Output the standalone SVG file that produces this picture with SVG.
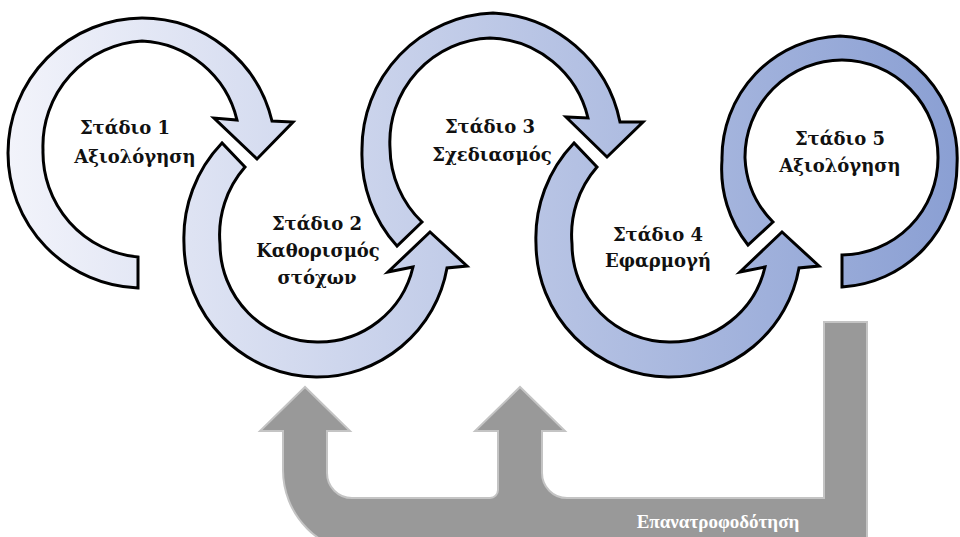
<svg xmlns="http://www.w3.org/2000/svg" width="960" height="537" viewBox="0 0 960 537">
<defs>
<linearGradient id="ringGrad" gradientUnits="userSpaceOnUse" x1="0" y1="0" x2="960" y2="0">
<stop offset="0" stop-color="#f3f4fb"/>
<stop offset="1" stop-color="#8a9fd3"/>
</linearGradient>
</defs>
<style>
.ring{fill:url(#ringGrad);stroke:#000;stroke-width:3;stroke-linejoin:miter}
.lbl{font-family:"DejaVu Serif","Liberation Serif",serif;font-weight:bold;font-size:18px;fill:#111;text-anchor:middle}
.fb{fill:#999;stroke:#c4c4c4;stroke-width:2}
.fbt{font-family:"Liberation Serif","DejaVu Serif",serif;font-weight:bold;font-size:19px;fill:#fff;text-anchor:middle}
</style>
<rect width="960" height="537" fill="#fff"/>
<g id="connectors">
<path class="fb" d="M824,322 L867,322 L867,553 L366,553 A83,83 0 0 1 283,470 L283,431 L260,431 L305,387 L350,431 L327,431 L327,473 A25,25 0 0 0 352,498 L490,498 A8,8 0 0 0 498,490 L498,431 L475,431 L520,387 L565,431 L542,431 L542,473 A25,25 0 0 0 567,498 L824,498 Z"/>
<text class="fbt" x="718" y="528">Επανατροφοδότηση</text>
</g>
<g id="stage1">
<path class="ring" d="M138,257 L138,288 A135,135 0 0 1 8,153 A135,135 0 0 1 142,18 A134,134 0 0 1 272,121 L293,122 L257,159 L214,118 L237,120 A103,103 0 0 0 142,41 A105,105 0 0 0 43,150 A105,105 0 0 0 138,257 Z"/>
<text class="lbl" x="125" y="134">Στάδιο 1</text>
<text class="lbl" x="135" y="163">Αξιολόγηση</text>
</g>
<g id="stage2">
<path class="ring" d="M245,167 L222,143 A137,137 0 0 0 184,244 A134,134 0 0 0 316,377 A132,132 0 0 0 447,268 L467,266 L430,232 L388,272 L413,267 A97,97 0 0 1 317,342 A98,98 0 0 1 220,244 A103,103 0 0 1 245,167 Z"/>
<text class="lbl" x="317" y="230">Στάδιο 2</text>
<text class="lbl" x="318" y="257">Καθορισμός</text>
<text class="lbl" x="317" y="284">στόχων</text>
</g>
<g id="stage3">
<path class="ring" d="M422,222 L397,246 A136,136 0 0 1 362,150 A136,136 0 0 1 493,13 A136,136 0 0 1 620,122 L643,122 L607,157 L566,117 L588,118 A104,104 0 0 0 490,38 A104,104 0 0 0 390,148 A104,104 0 0 0 422,222 Z"/>
<text class="lbl" x="490" y="133">Στάδιο 3</text>
<text class="lbl" x="492" y="161">Σχεδιασμός</text>
</g>
<g id="stage4">
<path class="ring" d="M597,167 L574,143 A137,137 0 0 0 536,244 A134,134 0 0 0 668,377 A132,132 0 0 0 799,268 L819,266 L782,232 L740,272 L765,267 A97,97 0 0 1 669,342 A98,98 0 0 1 572,244 A103,103 0 0 1 597,167 Z"/>
<text class="lbl" x="658" y="241">Στάδιο 4</text>
<text class="lbl" x="658" y="267">Εφαρμογή</text>
</g>
<g id="stage5">
<path class="ring" d="M773,222 L748,245 A122,122 0 0 1 722,160 A122,122 0 0 1 840,36 A122,122 0 0 1 957,165 A122,122 0 0 1 842,287 L842,255 A97,97 0 0 0 938,158 A97,97 0 0 0 842,60 A97,97 0 0 0 745,158 A97,97 0 0 0 773,222 Z"/>
<text class="lbl" x="840" y="145">Στάδιο 5</text>
<text class="lbl" x="840" y="172">Αξιολόγηση</text>
</g>
</svg>
